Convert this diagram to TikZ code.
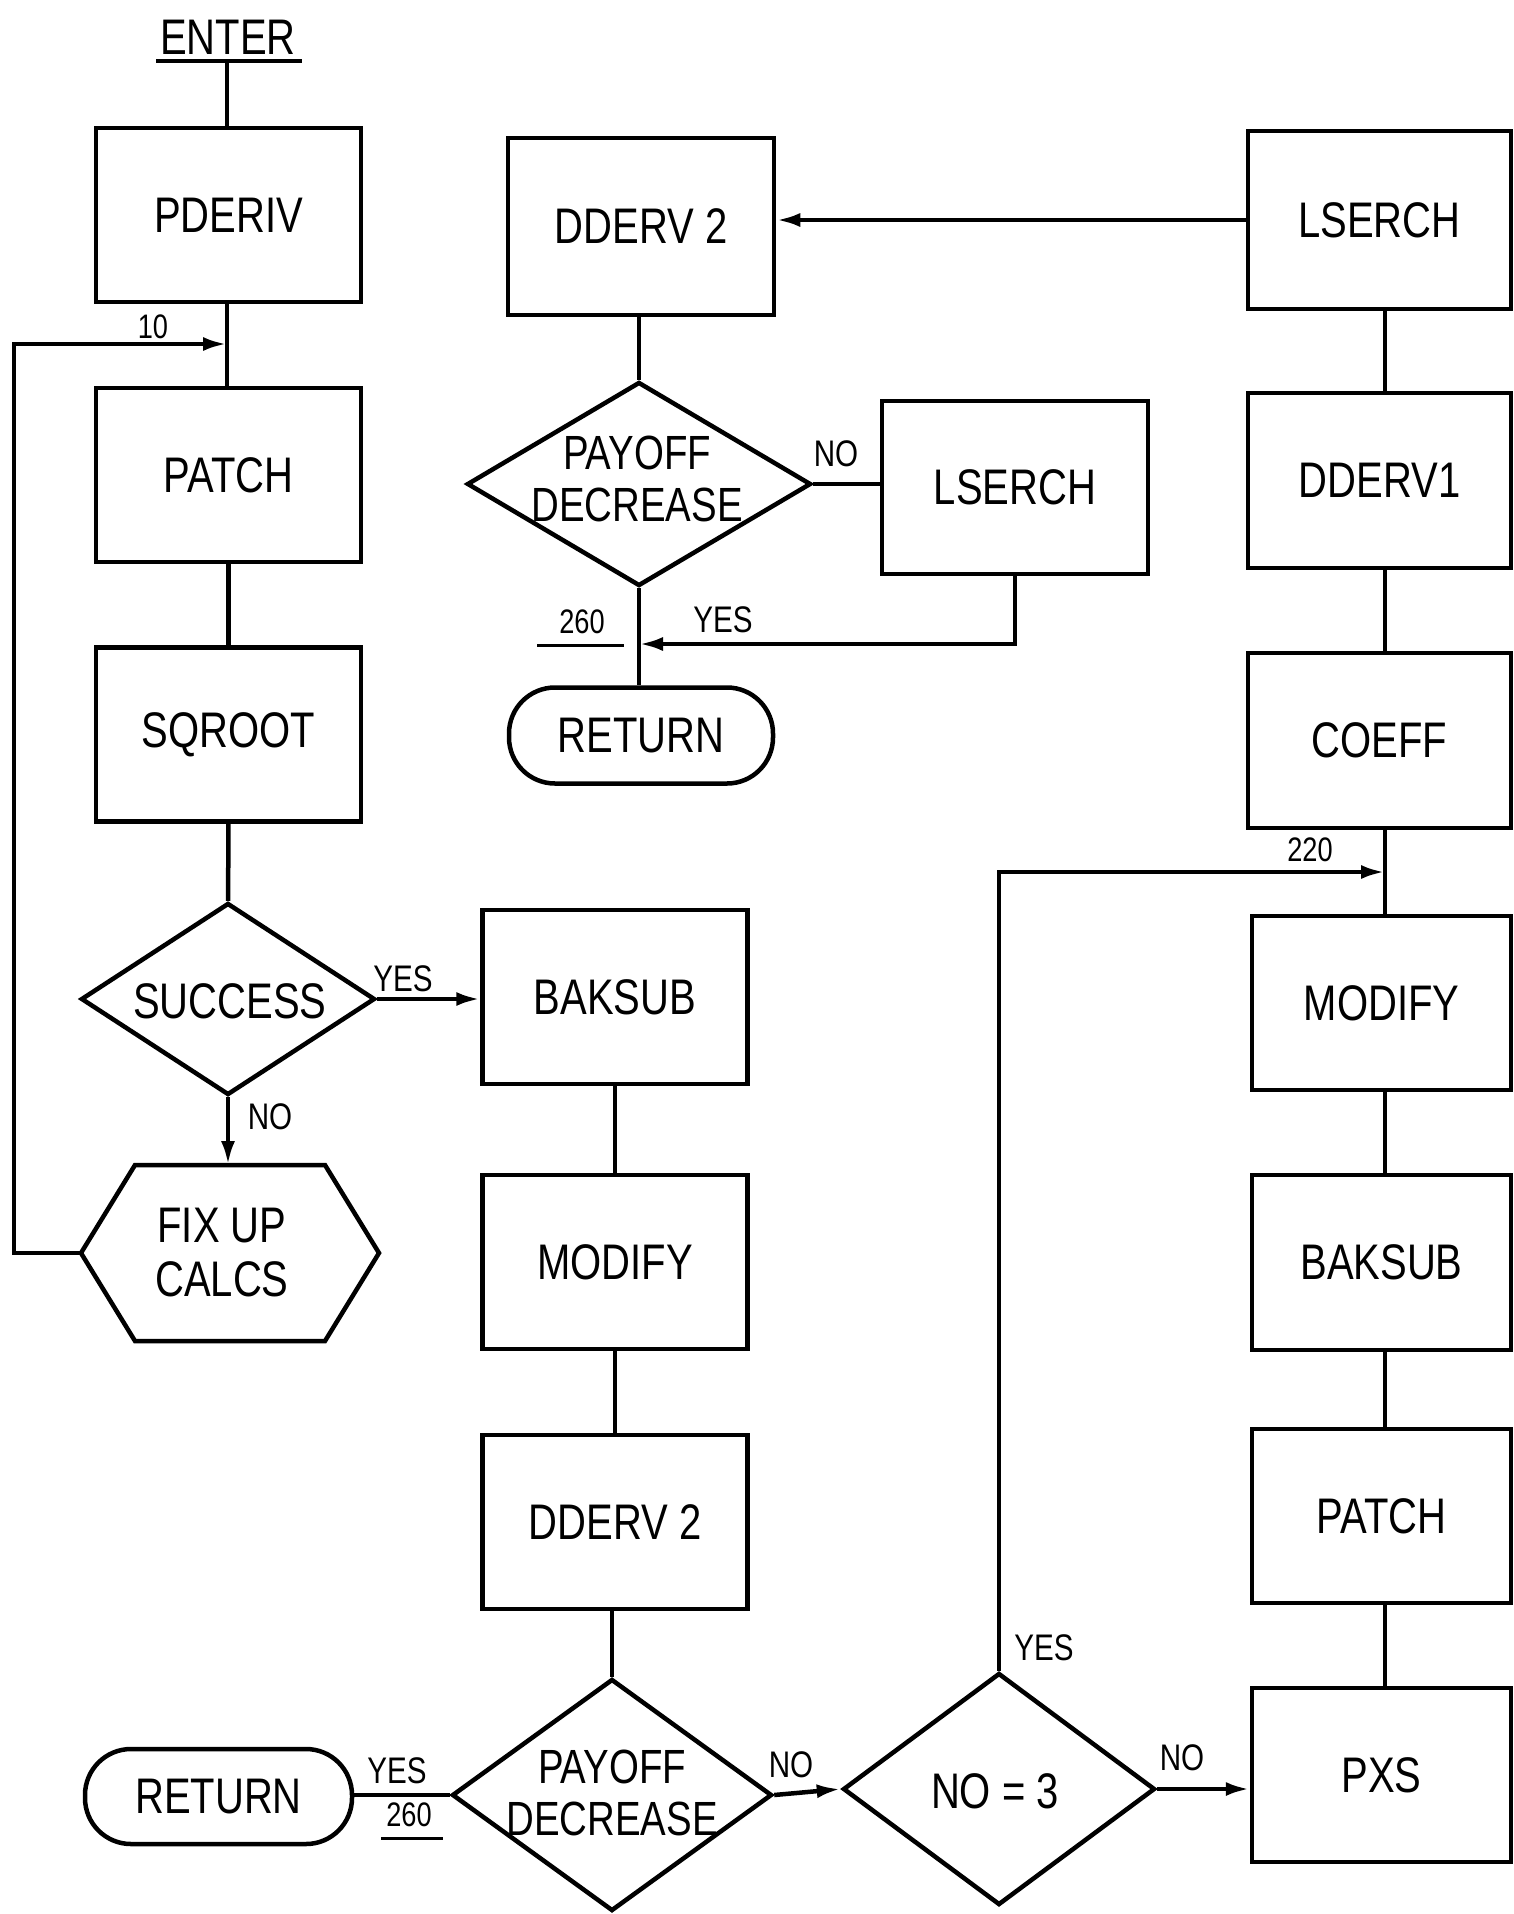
\documentclass[tikz,border=0pt]{standalone}
\usepackage{fontspec}
\setmainfont{Liberation Sans}[FakeStretch=0.8]
\usetikzlibrary{shapes.geometric,arrows.meta}
\newcommand\bigtxt{\fontsize{50}{54}\selectfont}
\newcommand\diatxt{\fontsize{48}{52}\selectfont}
\newcommand\midtxt{\fontsize{37}{40}\selectfont}
\newcommand\numtxt{\fontsize{34}{36}\selectfont}
\begin{document}
\begin{tikzpicture}[x=1pt,y=-1pt,
  ln/.style={line width=4.5pt},
  arr/.style={line width=4.5pt,-{Latex[length=24pt,width=14pt]}},
  box/.style={draw,line width=4.5pt,minimum width=265pt,minimum height=174pt,inner sep=0pt,font=\bigtxt},
  term/.style={draw,line width=4.5pt,rounded corners=46pt,minimum width=264pt,minimum height=96pt,inner sep=0pt,font=\bigtxt},
  dia/.style={draw,line width=4.5pt,diamond,inner sep=0pt},
  dtext/.style={font=\diatxt,align=center,inner sep=0pt},
  lab/.style={font=\midtxt,inner sep=0pt},
  num/.style={font=\numtxt,inner sep=0pt}]
\useasboundingbox (0,0) rectangle (1513,1914);
\fill[white] (0,0) rectangle (1513,1914);
\clip (0,0) rectangle (1513,1914);

% left column
\node[font=\bigtxt,inner sep=0pt] (enter) at (228,37) {ENTER};
\coordinate (enterL) at (156,61);
\coordinate (enterR) at (302,61);
\coordinate (enterM) at (227,61);
\draw[ln] (enterL) -- (enterR);
\node[box] (pderiv) at (228.5,215) {PDERIV};
\node[box] (patch) at (228.5,475) {PATCH};
\node[box] (sqroot) at (228.5,734.5) {SQROOT};
\node[dia,minimum width=294pt,minimum height=192pt] (succ) at (228,999) {};
\node[dtext,font=\bigtxt] at (230,1001) {SUCCESS};
\draw[ln,line join=miter] (81,1253) -- (135,1165) -- (325,1165) -- (379,1253) -- (325,1341) -- (135,1341) -- cycle;
\coordinate (fixL) at (81,1253);
\coordinate (fixT) at (228,1165);
\node[dtext,font=\bigtxt] (fix) at (222,1253) {FIX UP\\CALCS};
\coordinate (j10) at (227,344);

\draw[ln] (enterM) -- (enterM |- pderiv.north);
\draw[ln] (pderiv.south -| enterM) -- (patch.north -| enterM);
\draw[ln] (patch) -- (sqroot);
\draw[ln] (sqroot) -- (succ);
\draw[arr] (succ.south) -- (fixT);
\draw[arr] (fixL) -- ++(-67,0) |- (j10);
\node[num] at (153,327) {10};
\node[lab] at (270,1117) {NO};

% middle top
\node[box,minimum width=266pt,minimum height=177pt] (dd2a) at (641,226.5) {DDERV 2};
\node[dia,minimum width=344pt,minimum height=204pt] (pay1) at (639,484) {};
\node[dtext] at (637,479) {PAYOFF\\DECREASE};
\node[box,minimum width=266pt,minimum height=173pt] (ls2) at (1015,487.5) {LSERCH};
\node[term] (ret1) at (641,735.5) {RETURN};
\coordinate (j260) at (639,644);
\draw[ln] (dd2a.south -| pay1.north) -- (pay1.north);
\draw[ln] (pay1.east) -- (pay1.east -| ls2.west);
\draw[arr] (ls2.south) |- (j260);
\draw[ln] (pay1.south) -- (pay1.south |- ret1.north);
\node[lab] at (836,454) {NO};
\node[lab] at (723,620) {YES};
\node[num] at (582,622) {260};
\draw[line width=3pt] (537,645) -- (624,645);

% middle column
\node[box] (bak1) at (615,997) {BAKSUB};
\node[box] (mod1) at (615,1262) {MODIFY};
\node[box] (dd2b) at (615,1522) {DDERV 2};
\node[dia,minimum width=320pt,minimum height=232pt] (pay2) at (612,1795) {};
\node[dtext] at (612,1793) {PAYOFF\\DECREASE};
\node[term,minimum width=267pt,minimum height=95pt] (ret2) at (218.5,1796.5) {RETURN};
\node[dia,minimum width=312pt,minimum height=232pt] (no3) at (999,1789) {};
\node[dtext,font=\bigtxt] at (995,1791) {NO = 3};
\draw[arr] (succ.east) -- (succ.east -| bak1.west);
\node[lab] at (403,979) {YES};
\draw[ln] (bak1) -- (mod1);
\draw[ln] (mod1) -- (dd2b);
\draw[ln] (dd2b.south -| pay2.north) -- (pay2.north);
\draw[ln] (pay2.west) -- (pay2.west -| ret2.east);
\node[lab] at (397,1771) {YES};
\node[num] at (409,1815) {260};
\draw[line width=3pt] (381,1838) -- (443,1838);
\draw[arr] (pay2.east) -- (no3.west);
\node[lab] at (791,1765) {NO};

% right column
\node[box,minimum width=263pt,minimum height=178pt] (ls1) at (1379.5,220) {LSERCH};
\node[box,minimum width=263pt,minimum height=175pt] (dd1) at (1379.5,480.5) {DDERV1};
\node[box,minimum width=263pt,minimum height=175pt] (coeff) at (1379.5,740.5) {COEFF};
\node[box,minimum width=259pt,minimum height=174pt] (mod2) at (1381.5,1003) {MODIFY};
\node[box,minimum width=259pt,minimum height=175pt] (bak2) at (1381.5,1262.5) {BAKSUB};
\node[box,minimum width=259pt,minimum height=174pt] (patch2) at (1381.5,1516) {PATCH};
\node[box,minimum width=259pt,minimum height=174pt] (pxs) at (1381.5,1775) {PXS};
\coordinate (j220) at (1385,872);
\draw[arr] (ls1.west) -- (ls1.west -| dd2a.east);
\draw[ln] (ls1.south -| j220) -- (dd1.north -| j220);
\draw[ln] (dd1.south -| j220) -- (coeff.north -| j220);
\draw[ln] (coeff.south -| j220) -- (mod2.north -| j220);
\draw[ln] (mod2.south -| j220) -- (bak2.north -| j220);
\draw[ln] (bak2.south -| j220) -- (patch2.north -| j220);
\draw[ln] (patch2.south -| j220) -- (pxs.north -| j220);
\draw[arr] (no3.north) |- (j220);
\node[num] at (1310,850) {220};
\node[lab] at (1044,1648) {YES};
\draw[arr] (no3.east) -- (no3.east -| pxs.west);
\node[lab] at (1182,1758) {NO};
\end{tikzpicture}
\end{document}
